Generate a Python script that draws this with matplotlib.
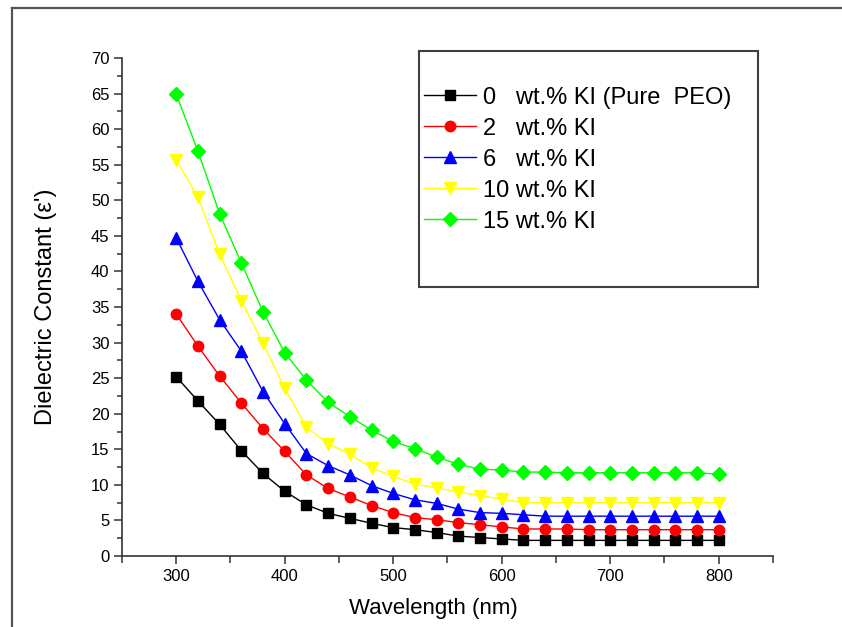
import numpy as np
import matplotlib
matplotlib.use("Agg")
import matplotlib.pyplot as plt
from matplotlib.lines import Line2D
from matplotlib.patches import Rectangle
from matplotlib.ticker import MultipleLocator

plt.rcParams['font.family'] = ['Liberation Sans', 'DejaVu Sans']

# longitud de onda (nm)
wavelength = [300, 320, 340, 360, 380, 400, 420, 440, 460, 480, 500, 520, 540,
              560, 580, 600, 620, 640, 660, 680, 700, 720, 740, 760, 780, 800]

ki_0 = [25.2, 21.8, 18.5, 14.8, 11.6, 9.1, 7.2, 6.0, 5.3, 4.6, 4.0, 3.7, 3.3,
        2.8, 2.6, 2.4, 2.2, 2.2, 2.2, 2.2, 2.2, 2.2, 2.2, 2.2, 2.2, 2.2]
ki_2 = [34.0, 29.5, 25.3, 21.5, 17.9, 14.7, 11.4, 9.5, 8.3, 7.1, 6.1, 5.4, 5.1,
        4.7, 4.4, 4.1, 3.8, 3.8, 3.8, 3.7, 3.7, 3.7, 3.7, 3.7, 3.7, 3.7]
ki_6 = [44.7, 38.6, 33.2, 28.8, 23.1, 18.6, 14.4, 12.7, 11.4, 9.9, 8.8, 7.9, 7.4,
        6.6, 6.1, 6.0, 5.8, 5.6, 5.6, 5.6, 5.6, 5.6, 5.6, 5.6, 5.6, 5.6]
ki_10 = [55.7, 50.4, 42.4, 35.9, 29.9, 23.6, 18.1, 15.8, 14.3, 12.4, 11.2, 10.1, 9.6,
         9.0, 8.5, 8.0, 7.5, 7.5, 7.5, 7.5, 7.5, 7.5, 7.5, 7.5, 7.5, 7.5]
ki_15 = [64.9, 56.9, 48.1, 41.2, 34.3, 28.6, 24.7, 21.6, 19.6, 17.7, 16.1, 15.1, 13.9,
         12.9, 12.2, 12.1, 11.8, 11.8, 11.7, 11.7, 11.7, 11.7, 11.7, 11.7, 11.7, 11.5]

etiquetas = ["0   wt.% KI (Pure  PEO)", "2   wt.% KI", "6   wt.% KI",
             "10 wt.% KI", "15 wt.% KI"]
series = [ki_0, ki_2, ki_6, ki_10, ki_15]
colores = ["#000000", "#ff0000", "#0000ff", "#ffff00", "#00ff00"]
marcas = ["s", "o", "^", "v", "D"]
tamanos = [7, 7.5, 8, 8, 7]

fig = plt.figure(figsize=(8.42, 6.27), dpi=100)
ax = fig.add_axes([0.1449, 0.1132, 0.918 - 0.1449, 0.9075 - 0.1132])

lineas = []
for datos, c, m, s, lab in zip(series, colores, marcas, tamanos, etiquetas):
    l, = ax.plot(wavelength, datos, color=c, marker=m, markersize=s,
                 markeredgecolor=c, linewidth=1.0, label=lab)
    lineas.append(l)

ax.set_xlim(250, 850)
ax.set_ylim(0, 70)
ax.xaxis.set_major_locator(MultipleLocator(100))
ax.xaxis.set_minor_locator(MultipleLocator(50))
ax.yaxis.set_major_locator(MultipleLocator(5))
ax.yaxis.set_minor_locator(MultipleLocator(2.5))
ax.set_xticks([300, 400, 500, 600, 700, 800])

for lado in ["top", "right"]:
    ax.spines[lado].set_visible(False)
for lado in ["left", "bottom"]:
    ax.spines[lado].set_linewidth(1.2)
    ax.spines[lado].set_color("#333333")

ax.tick_params(which="major", direction="out", length=6, width=1.1,
               labelsize=12, pad=3, colors="#333333")
ax.tick_params(which="minor", direction="out", length=3.5, width=1.1,
               colors="#333333")
ax.tick_params(axis="x", which="minor", length=5)
for t in ax.get_xticklabels() + ax.get_yticklabels():
    t.set_color("black")

ax.set_xlabel("Wavelength (nm)", fontsize=16)
ax.xaxis.set_label_coords(0.479, -0.085)
ax.set_ylabel("Dielectric Constant (ε')", fontsize=17)
ax.yaxis.set_label_coords(-0.1, 0.5)

# recuadro de la leyenda con espacio arriba y abajo
caja = Rectangle((419, 627 - 287), 339, 236, transform=None, fill=False,
                 edgecolor="#404040", linewidth=1.5)
fig.add_artist(caja)
ley = ax.legend(handles=lineas, loc="upper left",
                bbox_to_anchor=(419 / 842, 1 - 82 / 627),
                bbox_transform=fig.transFigure, frameon=False,
                fontsize=17, handlelength=2.2, handletextpad=0.3,
                labelspacing=0.38, borderpad=0.2, borderaxespad=0)

# marco de la figura
fig.add_artist(Line2D([12 / 842, 1], [1 - 8 / 627, 1 - 8 / 627],
                      transform=fig.transFigure, color="#555555", linewidth=1.6))
fig.add_artist(Line2D([12 / 842, 12 / 842], [0, 1 - 8 / 627],
                      transform=fig.transFigure, color="#555555", linewidth=1.6))

fig.savefig("out.png", dpi=100)
